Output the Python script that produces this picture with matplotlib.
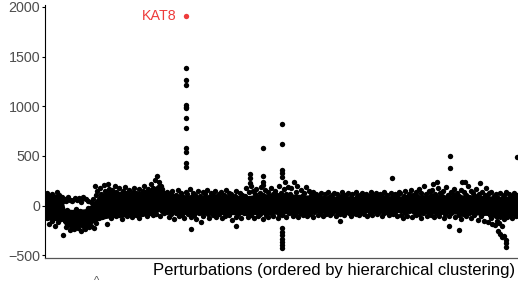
import matplotlib
matplotlib.use("Agg")
import matplotlib.pyplot as plt
import numpy as np

plt.rcParams['font.family'] = ['Liberation Sans', 'DejaVu Sans']

# perturbation rank runs 0..1000 (ordered by hierarchical clustering)
# rank boundaries of each stretch of the dense band
seg_bounds = [-2, 36, 91, 112, 218, 252, 419, 514, 746, 937, 996]

band_1 = [60, -120, 130, -40, 10, -180, 95, -90, 40, -150, 120, 0, -60, 80, -200,
          25, -110, 140, -20, 70, -160, 110, -70, 30, -130, 90, -30, 50, -100]
band_2 = [-80, 70, -150, -210, 50, -40, -180, 90, -120, -240, 60, -90, -200, 45,
          -60, -170, -230, 80, -130, -30, -190, 55, -100, -220, 75, -150, -50, -250,
          40, -110, -200, 85, -170, -70, -230, 65, -140, -190, -20, 50, -120, -210]
band_3 = [-150, 40, -200, -60, 70, -110, -220, 20, -90, 110, -170, -30, 150, -60, 60, -120]
band_4 = [180, -60, 120, -110, 90, 0, 210, -90, 150, -30,
          70, -180, 130, -70, 170, -10, 100, -120, 60, -40,
          160, -80, 110, 5, 200, -100, 140, -50, 80, -20,
          175, -90, 120, -60, 95, -130, 150, -10, 70, -70,
          190, -40, 130, -100, 85, 0, 160, -80, 110, -30,
          65, -110, 140, -50, 180, -20, 100, -90, 125, -60,
          75, -10, 165, -120, 115, -40, 90, -80, 150, 5,
          200, -70, 135, -30, 80, -100, 170, -50, 120, -20]
band_5 = [150, -60, 220, 40, -90, 180, 90, -30, 260, 120, -80, 300, 60, -20, 240,
          150, -100, 200, 20, -50, 170, 100, -70, 130, 0, 80]
band_6 = [90, -60, 140, 20, -110, 60, -20, 120, -80, 30, 150, -40, 80, -130,
          10, 110, -70, 50, -10, 160, -100, 70, -50, 130, 0, -90, 100, 40,
          -120, 80, -30, 140, -60, 20, 120, -80, 60, -20, 170, -110, 90, 10,
          -50, 130, -90, 40, 110, -10, -130, 70, 150, -40, 30, -70, 100, -160,
          60, 0, 140, -100, 80, -30, 120, -60, 20, 160, -80, 50, -120, 90,
          -20, 130, -50, 10, 110, -90, 70, -10, 150, -110, 40, 100, -60, 0,
          120, -80, 60, -30, 140, -120, 80, 20, -50, 110, -100, 30, 160, -70,
          90, -10, 130, -90, 50, -40, 120, -140, 70, 10, -60, 100, -30, 150,
          -110, 40, 80, -80, 0, 130, -50, 60, -120, 110, -20, 90, -70, 30]
band_7 = [100, -70, 180, -20, 60, -110, 140, 10, -50, 200, -90, 80,
          -30, 150, -120, 40, 120, -60, 170, 0, -100, 90, -40, 130,
          -80, 60, 190, -10, -130, 110, 30, -60, 160, -90, 70, -20,
          140, -110, 50, 100, -40, 180, -70, 20, 120, -100, 80, -30,
          150, -50, 10, 110, -120, 60, 200, -80, 40, -20, 130, -90,
          90, -60, 170, -10, 240, -110, 120, -40, 60, 190, -70, 100]
band_8 = [120, -60, 180, -20, 60, -100, 240, 20, -80, 140, -40, 200, 0, -110, 90, 40,
          -70, 160, -30, 100, -90, 50, 130, -10, -60, 190, 10, -100, 80, -50, 150, 20,
          -80, 110, -20, 60, -110, 140, 0, -60, 90, -40, 120, 30, -90, 70, -10, 100,
          -70, 40, 130, -30, -100, 80, 10, -50, 120, -80, 60, -20, 140, -60, 20, 90,
          -90, 50, -10, 110, -70, 30, 130, -40, 70, -100, 0, 120, -60, 40, 90, -20,
          -80, 100, 20, -50, 140, -30, 60, -90, 110, 10, -60, 80, -20, 130, -70, 40,
          0, -100, 90, -40, 120, 30, -70, 70, -10, 140, -80, 50, 100, -50, 20, -90,
          110, -20, 60, -60, 130, 0, -80, 90, 40, -30, 120, -100, 70, -40, 10, 100,
          -70, 140, -10, 50, -90, 110, 20, -50, 80, -20, 130, -80, 30, 90, -60, 0,
          120, -40, 60, -100, 100, 10, -70, 140, -30, 40, 80, -60, 110, -10, -90, 70,
          20, -50, 130, -20, 90, -80, 50, 0, 120, -60, 30, -100, 100, -30, 60, 140]
band_9 = [-40, 130, -90, 60, 10, -120, 100, -20, 150, -70, 40, 90, -100, 0, 120, -50,
          70, -30, 160, -110, 20, 110, -60, 80, -10, 140, -90, 50, 100, -40, 170, -80,
          30, -120, 130, -20, 90, -70, 60, 200, -50, 10, 120, -100, 80, -30, 150, -60,
          40, 110, -90, 0, 160, -40, 70, -110, 120, 20, -70, 90, -20, 180, -100, 50,
          130, -60, 10, 100, -30, 150, -120, 70, -80, 40, 190, -50, 110, 0, -100, 80,
          -20, 140, -70, 60, 120, -40, 20, 170, -110, 90, -10, 130, -60, 50, -90, 100,
          30, -130, 160, -30, 80, -80, 140, 0, -50, 110, -100, 60, 200, -20, 90, -70,
          40, 150, -120, 70, -40, 130, 10, -90, 100, -10, 170, -60, 50, -140, 120, -30,
          80, -100, 20, 140, -70, 60, -150, 110, -20, 180, -50, 90, -160, 30, 130, -90]
band_10 = [60, -120, 140, -180, 20, -60, 100, -190, 40, -100, 120, -150, 0, 80, -40,
           -170, 130, -90, 30, -200, 90, -20, 110, -130, 50, -70, 140, -110, 10, 70,
           -50, 120, -90, 30, 100, -120, 60, -30, 130, -70, 0, 90, -100, 40, 110]
bands = [band_1, band_2, band_3, band_4, band_5, band_6, band_7, band_8, band_9, band_10]

# solid core of the band, where points overlap completely
core_rank = [-4, 17, 32, 38, 59, 80, 95, 112, 135, 175, 218, 237, 252, 302, 366, 419,
             461, 514, 577, 662, 746, 831, 895, 937, 958, 979, 1006]
core_low = [-140, -150, -150, -200, -220, -210, -180, -140, -120, -110, -100, -60, -80, -90,
            -90, -90, -90, -80, -70, -70, -70, -80, -90, -100, -140, -110, -90]
core_high = [120, 120, 100, -30, -40, -30, 20, 120, 150, 140, 150, 230, 130, 100,
             110, 100, 120, 120, 100, 90, 100, 110, 110, 100, 90, 100, 100]
# thin upper strip left of rank 90
strip_rank = [36, 60, 82]
strip_low = [45, 45, 50]
strip_high = [85, 80, 80]

# scattered perturbations outside the band
out_rank = [34, 101, 129, 294, 294, 294, 294, 294, 294, 294, 294, 294, 294, 294, 294,
            304, 400, 429, 429, 429, 457, 457, 457, 457,
            497, 497, 497, 497, 497, 497, 497, 497, 497, 497, 497, 497,
            619, 729, 816, 824, 850, 852, 852, 871, 877, 884, 915,
            953, 958, 962, 966, 970, 970, 970, 994]
out_value = [-295, 201, 215, 1389, 1268, 1217, 1014, 995, 984, 882, 781, 578, 543, 427, 392,
             -234, -204, 319, 279, 228, 583, 299, 242, 208,
             819, 618, 359, 329, 290, -225, -260, -295, -330, -362, -400, -429,
             -151, 282, 215, 242, -204, 503, 376, -244, 235, 235, 225,
             -250, -280, -312, -300, -345, -380, -412, 490]

kat8_rank = 294
kat8_value = 1910

yticks = [-500, 0, 500, 1000, 1500, 2000]

xs, ys = [], []
for i, vals in enumerate(bands):
    xs.extend(np.linspace(seg_bounds[i], seg_bounds[i + 1], len(vals), endpoint=False))
    ys.extend(vals)

fig = plt.figure(figsize=(5.18, 2.86), dpi=100)
ax = fig.add_axes([0.0878, 0.0962, 0.92, 0.8874])

ax.fill_between(core_rank, core_low, core_high, color='black', linewidth=0)
ax.fill_between(strip_rank, strip_low, strip_high, color='black', linewidth=0)
ax.scatter(xs, ys, s=15, color='black', linewidths=0)
ax.scatter(out_rank, out_value, s=15, color='black', linewidths=0)
ax.scatter([kat8_rank], [kat8_value], s=15, color='#EE3B3B', linewidths=0)
ax.annotate('KAT8', (kat8_rank, kat8_value), xytext=(-7, 0), textcoords='offset points',
            ha='right', va='center', color='#EE3B3B', fontsize=10.3)

ax.set_xlim(-3.2, 1004.4)
ax.set_ylim(-531, 2022)
ax.set_yticks(yticks)
ax.set_xticks([])
ax.tick_params(axis='y', length=2.2, width=0.8, pad=1.5, labelsize=10.3, labelcolor='#4D4D4D')

for side in ['top', 'right']:
    ax.spines[side].set_visible(False)
ax.spines['left'].set_linewidth(0.8)
ax.spines['bottom'].set_linewidth(0.9)
ax.spines['bottom'].set_color('#555555')

fig.text(515 / 518, 1 - 270 / 286, 'Perturbations (ordered by hierarchical clustering)',
         ha='right', va='center', fontsize=12, color='black')
fig.text(97 / 518, 0.0, '^', ha='center', va='bottom', fontsize=8, color='#555555')

fig.savefig('out.png', dpi=100)
